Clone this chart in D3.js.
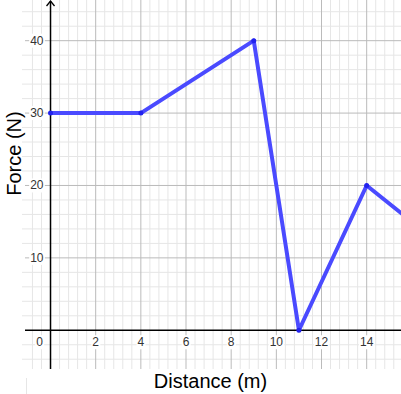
<!DOCTYPE html>
<html>
<head>
<meta charset="utf-8">
<script src="https://cdn.jsdelivr.net/npm/d3@7"></script>
<style>
  html, body { margin: 0; padding: 0; background: #fff; }
  svg { display: block; font-family: "Liberation Sans", Arial, sans-serif; }
</style>
</head>
<body>
<script>
const svgWidth = 401;
const svgHeight = 394;

// data
const distance = [0, 4, 9, 11, 14, 16];
const force = [30, 30, 40, 0, 20, 15];
const xTickLabels = [2, 4, 6, 8, 10, 12, 14];
const yTickLabels = [10, 20, 30, 40];

// plot area (grid region)
const gridLeft = 25, gridRight = 401, gridTop = 0, gridBottom = 369;

const x = d3.scaleLinear().domain([-1.13, 15.52]).range([gridLeft, gridRight]);
const y = d3.scaleLinear().domain([-5.35, 45.62]).range([gridBottom, gridTop]);

const svg = d3.select('body').append('svg')
  .attr('width', svgWidth)
  .attr('height', svgHeight);

// minor grid
const xMinor = d3.range(-0.8, 15.6, 0.4).filter(v => Math.abs(v / 2 - Math.round(v / 2)) > 0.01);
const yMinor = d3.range(-4, 46, 2).filter(v => v % 10 !== 0);
const xMajor = d3.range(-0, 16, 2);
const yMajor = d3.range(0, 46, 10);

svg.append('g').selectAll('line').data(xMinor).enter().append('line')
  .attr('x1', d => x(d)).attr('x2', d => x(d))
  .attr('y1', gridTop).attr('y2', gridBottom)
  .attr('stroke', '#e6e6e6').attr('stroke-width', 1);
svg.append('g').selectAll('line').data(yMinor).enter().append('line')
  .attr('x1', gridLeft - 3).attr('x2', gridRight)
  .attr('y1', d => y(d)).attr('y2', d => y(d))
  .attr('stroke', '#e6e6e6').attr('stroke-width', 1);

// major grid
svg.append('g').selectAll('line').data(xMajor.filter(d => d !== 0)).enter().append('line')
  .attr('x1', d => x(d)).attr('x2', d => x(d))
  .attr('y1', gridTop).attr('y2', gridBottom)
  .attr('stroke', '#bbbbbb').attr('stroke-width', 1);
svg.append('g').selectAll('line').data(yMajor.filter(d => d !== 0)).enter().append('line')
  .attr('x1', gridLeft).attr('x2', gridRight)
  .attr('y1', d => y(d)).attr('y2', d => y(d))
  .attr('stroke', '#bbbbbb').attr('stroke-width', 1);

// axes
svg.append('line')
  .attr('x1', gridLeft).attr('x2', gridRight)
  .attr('y1', y(0)).attr('y2', y(0))
  .attr('stroke', '#000').attr('stroke-width', 1.5);
svg.append('line')
  .attr('x1', x(0)).attr('x2', x(0))
  .attr('y1', 1).attr('y2', gridBottom)
  .attr('stroke', '#000').attr('stroke-width', 1.5);
// arrow head on y axis
svg.append('path')
  .attr('d', `M${x(0) - 4},${6} L${x(0)},${1} L${x(0) + 4},${6}`)
  .attr('fill', 'none').attr('stroke', '#000').attr('stroke-width', 1.3);

// tick labels with white backing
function label(tx, ty, txt, anchor) {
  const t = svg.append('text')
    .attr('x', tx).attr('y', ty)
    .attr('text-anchor', anchor)
    .attr('dominant-baseline', 'central')
    .attr('font-size', 12)
    .attr('fill', '#333')
    .text(txt);
  const b = t.node().getBBox();
  svg.insert('rect', () => t.node())
    .attr('x', b.x - 1).attr('y', b.y)
    .attr('width', b.width + 2).attr('height', b.height)
    .attr('fill', '#fff');
}
xTickLabels.forEach(v => label(x(v), y(0) + 12, v, 'middle'));
label(x(0) - 11, y(0) + 12, 0, 'middle');
yTickLabels.forEach(v => label(x(0) - 7, y(v), v, 'end'));

// faint leftover line below the grid
svg.append('line')
  .attr('x1', 26.5).attr('x2', 26.5)
  .attr('y1', 378).attr('y2', svgHeight)
  .attr('stroke', '#e6e6e6');

// data line
const pts = distance.map((d, i) => [d, force[i]]);
svg.append('path')
  .datum(pts)
  .attr('d', d3.line().x(d => x(d[0])).y(d => y(d[1])))
  .attr('fill', 'none')
  .attr('stroke', '#4a4aff')
  .attr('stroke-width', 4)
  .attr('stroke-linejoin', 'round');
svg.append('g').selectAll('circle').data(pts.slice(0, -1)).enter().append('circle')
  .attr('cx', d => x(d[0])).attr('cy', d => y(d[1]))
  .attr('r', 2.5).attr('fill', '#2222ee');

// axis titles
svg.append('text')
  .attr('x', 210.5).attr('y', 388)
  .attr('text-anchor', 'middle')
  .attr('font-size', 20)
  .attr('fill', '#000')
  .text('Distance (m)');
svg.append('text')
  .attr('transform', 'translate(21,153.5) rotate(-90)')
  .attr('text-anchor', 'middle')
  .attr('font-size', 20)
  .attr('fill', '#000')
  .text('Force (N)');
</script>
</body>
</html>
